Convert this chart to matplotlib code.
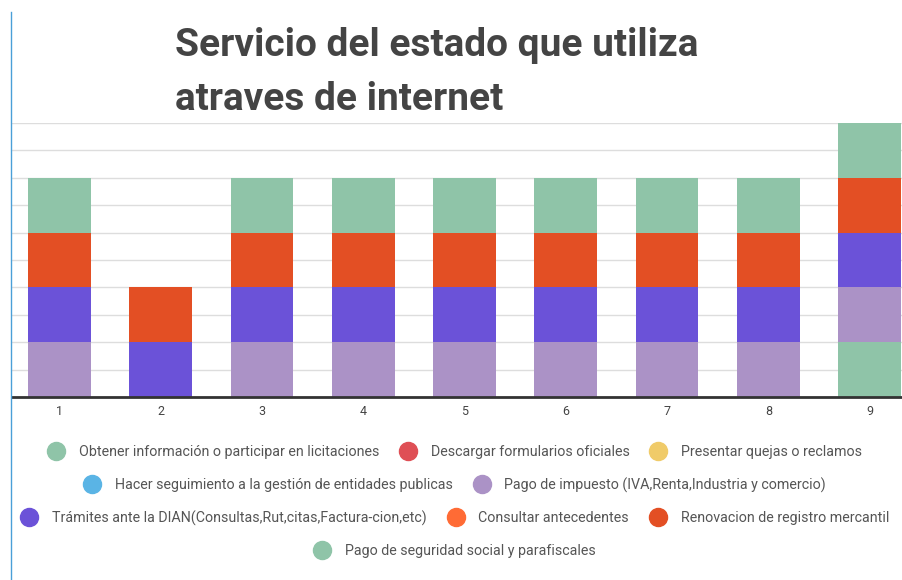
import numpy as np
import matplotlib.pyplot as plt
from matplotlib.lines import Line2D

plt.rcParams['font.family'] = ['Roboto', 'DejaVu Sans']

# Categories and series values (one unit per segment)
categories = ["1", "2", "3", "4", "5", "6", "7", "8", "9"]

seguridad_social = [0, 0, 0, 0, 0, 0, 0, 0, 1]
pago_impuesto = [1, 0, 1, 1, 1, 1, 1, 1, 1]
tramites_dian = [1, 1, 1, 1, 1, 1, 1, 1, 1]
renovacion = [1, 1, 1, 1, 1, 1, 1, 1, 1]
obtener_info = [1, 0, 1, 1, 1, 1, 1, 1, 1]

legend_rows = [
    [("Obtener información o participar en licitaciones", "#8fc4a8"),
     ("Descargar formularios oficiales", "#df4f55"),
     ("Presentar quejas o reclamos", "#f0cb69")],
    [("Hacer seguimiento a la gestión de entidades publicas", "#5ab4e5"),
     ("Pago de impuesto (IVA,Renta,Industria y comercio)", "#ab92c6")],
    [("Trámites ante la DIAN(Consultas,Rut,citas,Factura-cion,etc)", "#6b52d8"),
     ("Consultar antecedentes", "#ff6b35"),
     ("Renovacion de registro mercantil", "#e34f24")],
    [("Pago de seguridad social y parafiscales", "#8fc4a8")],
]

stack = [
    (seguridad_social, "#8fc4a8"),
    (pago_impuesto, "#ab92c6"),
    (tramites_dian, "#6b52d8"),
    (renovacion, "#e34f24"),
    (obtener_info, "#8fc4a8"),
]

fig = plt.figure(figsize=(9.03, 5.8), dpi=100)
ax = fig.add_axes([12 / 903, 1 - 397 / 580, 891 / 903, 274 / 580])

x = np.arange(1, len(categories) + 1)
bottom = np.zeros(len(categories))
for vals, col in stack:
    vals = np.array(vals, dtype=float)
    ax.bar(x, vals, 0.62, bottom=bottom, color=col, zorder=2)
    bottom += vals

ax.set_xlim(0.53, 9.33)
ax.set_ylim(0, 5)
ax.set_yticks(np.arange(0, 5.01, 0.5))
ax.set_yticklabels([])
ax.tick_params(axis='y', length=0)
ax.grid(axis='y', color='#dddddd', linewidth=1, zorder=0)
ax.set_xticks(x)
ax.set_xticklabels(categories, fontsize=9, color='#444444')
ax.tick_params(axis='x', length=0, pad=6)
for s in ['top', 'right', 'left']:
    ax.spines[s].set_visible(False)
ax.spines['bottom'].set_color('#333333')
ax.spines['bottom'].set_linewidth(2)
ax.spines['bottom'].set_zorder(3)

fig.text(175 / 903, 1 - 46 / 580, "Servicio del estado que utiliza", fontsize=28,
         fontweight='bold', color='#444444', va='center', ha='left')
fig.text(175 / 903, 1 - 100 / 580, "atraves de internet", fontsize=28,
         fontweight='bold', color='#444444', va='center', ha='left')

row_y = [452, 485, 518, 551]
for row, yy in zip(legend_rows, row_y):
    handles = [Line2D([], [], marker='o', linestyle='', markersize=13,
                      markerfacecolor=c, markeredgecolor=c) for _, c in row]
    labels = [t for t, _ in row]
    fig.legend(handles, labels, loc='center', bbox_to_anchor=(452 / 903, 1 - yy / 580),
               ncol=len(row), frameon=False, fontsize=10.3, handletextpad=0.6,
               columnspacing=1.0, labelcolor='#555555')

fig.add_artist(Line2D([11 / 903, 11 / 903], [0, 1 - 12 / 580], color='#4a9fd8', linewidth=1))

fig.savefig("out.png", dpi=100)
